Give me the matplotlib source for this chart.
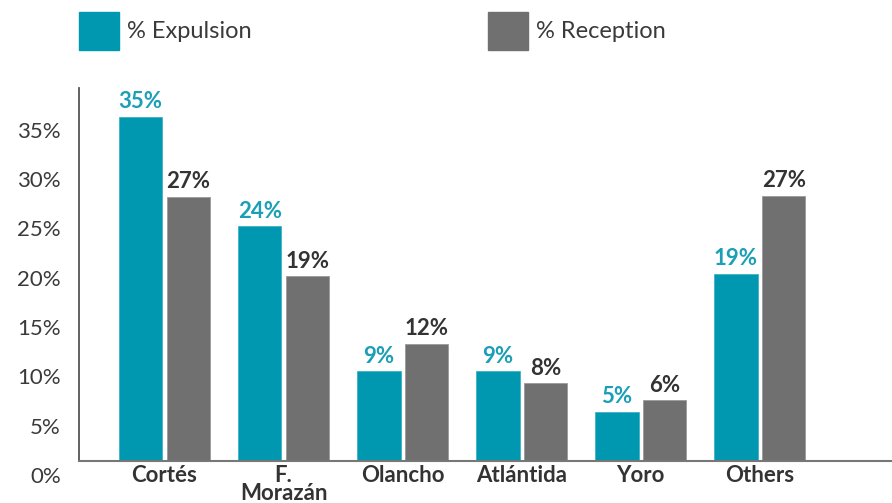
import matplotlib
matplotlib.use("Agg")
import matplotlib.pyplot as plt
from matplotlib.patches import Rectangle
from matplotlib.transforms import ScaledTranslation

# datos
departamentos = ["Cortés", "F.\nMorazán", "Olancho", "Atlántida", "Yoro", "Others"]
expulsion = [34.9, 23.8, 9.1, 9.1, 5.0, 19.0]
recepcion = [26.8, 18.7, 11.9, 7.9, 6.2, 26.9]
yticks = [0, 5, 10, 15, 20, 25, 30, 35]
series = ["% Expulsion", "% Reception"]

teal = "#0098B0"
gris = "#707070"
texto = "#333333"

plt.rcParams["font.family"] = ["Lato", "DejaVu Sans"]

fig = plt.figure(figsize=(8.92, 5.03), dpi=100)
ax = fig.add_axes([79 / 892, 42 / 503, 1 - 79 / 892, 373 / 503])

x = list(range(len(departamentos)))
ancho = 0.365
b1 = ax.bar([i - 0.2 for i in x], expulsion, ancho, color=teal, edgecolor="#3fb3c6", linewidth=0.6)
b2 = ax.bar([i + 0.2 for i in x], recepcion, ancho, color=gris, edgecolor="#9a9a9a", linewidth=0.6)

for barras, vals, col in [(b1, expulsion, "#1a9fb6"), (b2, recepcion, texto)]:
    for b, v in zip(barras, vals):
        ax.annotate(f"{round(v)}%", (b.get_x() + b.get_width() / 2, v),
                    xytext=(0, 3), textcoords="offset points", ha="center", va="bottom",
                    fontsize=16, fontweight="bold", color=col)

ax.set_xlim(-0.718, 6.11)
ax.set_ylim(0, 37.8)
ax.set_yticks(yticks)
ax.set_yticklabels([f"{t}%" for t in yticks], fontsize=16, color="#3a3a3a")
ax.tick_params(axis="y", length=0, pad=13)
desplazar = ScaledTranslation(0, -14 / 100, fig.dpi_scale_trans)
for lab in ax.get_yticklabels():
    lab.set_transform(lab.get_transform() + desplazar)

ax.set_xticks(x)
ax.set_xticklabels(departamentos, fontsize=16, fontweight="bold", color=texto, linespacing=0.8)
ax.tick_params(axis="x", length=0, pad=3)

for s in ["top", "right"]:
    ax.spines[s].set_visible(False)
ax.spines["left"].set_color("#555555")
ax.spines["left"].set_linewidth(1.3)
ax.spines["bottom"].set_color("#777777")
ax.spines["bottom"].set_linewidth(1.5)

# leyenda a mano
for x0, col, nombre in [(79, teal, series[0]), (488, gris, series[1])]:
    fig.add_artist(Rectangle((x0 / 892, 1 - 50 / 503), 40 / 892, 38 / 503,
                             transform=fig.transFigure, color=col))
    fig.text((x0 + 48) / 892, 1 - 31 / 503, nombre, fontsize=17,
             color="#3a3a3a", va="center", ha="left")

fig.savefig("out.png", dpi=100)
